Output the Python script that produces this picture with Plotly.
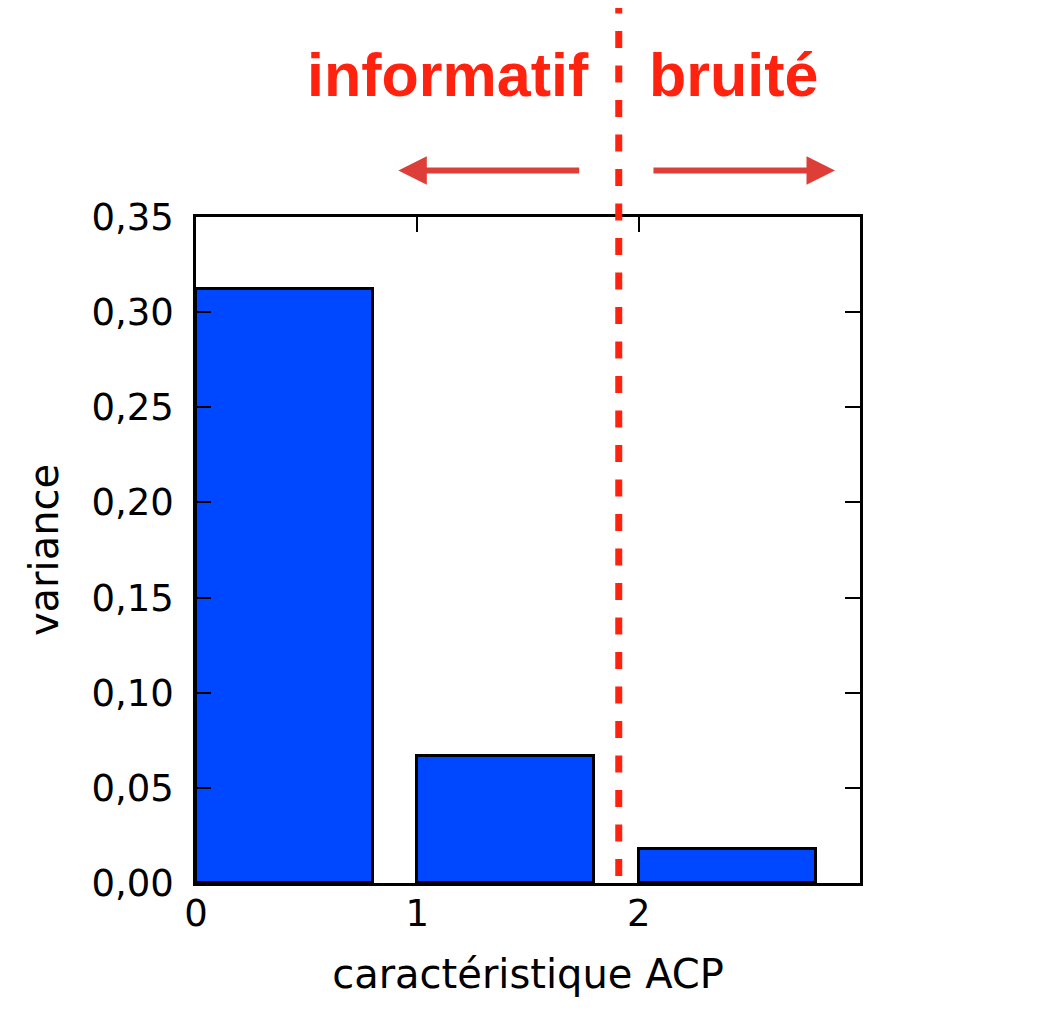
import plotly.graph_objects as go

# Data
components = [0, 1, 2]
variance = [0.312, 0.067, 0.0178]
y_ticks = [0.00, 0.05, 0.10, 0.15, 0.20, 0.25, 0.30, 0.35]
x_ticks = [0, 1, 2]
cutoff = 1.91
labels = ["informatif", "bruité"]
label_x = [1.14, 2.43]
arrow_tips = [0.914, 2.887]
arrow_tails = [1.738, 2.06]

BLUE = "rgb(0,72,255)"
RED = "rgb(255,35,15)"
ARROW_RED = "rgb(222,62,56)"
FONT = "DejaVu Sans"

fig = go.Figure()
fig.add_trace(go.Bar(
    x=components, y=variance, width=0.8, offset=0,
    marker=dict(color=BLUE, line=dict(color="black", width=3)),
    showlegend=False, hoverinfo="skip",
))

W, H = 1040, 1024
L, R, T, B = 188, 188, 209, 149
plot_w = W - L - R

fig.update_layout(
    width=W, height=H,
    margin=dict(l=L, r=R, t=T, b=B),
    plot_bgcolor="white", paper_bgcolor="white",
    separators=",.",
    font=dict(family=FONT, size=37, color="black"),
    bargap=0,
)
fig.update_xaxes(
    range=[0, 3], tickvals=x_ticks, ticktext=[str(v) for v in x_ticks],
    ticks="inside", ticklen=15, tickwidth=2, tickcolor="black",
    showline=True, linewidth=2.5, linecolor="black", mirror="ticks",
    showgrid=False, zeroline=False,
    tickfont=dict(family=FONT, size=37, color="black"),
    ticklabelstandoff=-4,
    title=dict(text="caractéristique ACP", font=dict(family=FONT, size=40, color="black"), standoff=26),
)
fig.update_yaxes(
    range=[0, 0.35], tickvals=y_ticks, tickformat=".2f",
    ticks="inside", ticklen=15, tickwidth=2, tickcolor="black",
    showline=True, linewidth=2.5, linecolor="black", mirror="ticks",
    showgrid=False, zeroline=False,
    tickfont=dict(family=FONT, size=37, color="black"),
    ticklabelstandoff=12,
    title=dict(text="variance", font=dict(family=FONT, size=40, color="black"), standoff=21),
)

# Dashed cutoff line
fig.add_shape(
    type="line", xref="x", yref="paper",
    x0=cutoff, x1=cutoff, y0=0.0105, y1=1.35,
    line=dict(color=RED, width=7, dash="17px,17.5px"),
    layer="above",
)

# Region labels
for txt, lx in zip(labels, label_x):
    fig.add_annotation(
        x=lx, y=1.2126, xref="x", yref="paper",
        text="<b>" + txt + "</b>", showarrow=False,
        font=dict(family="Liberation Sans", size=61, color=RED),
        xanchor="center", yanchor="middle",
    )

# Arrows
for tip, tail in zip(arrow_tips, arrow_tails):
    fig.add_annotation(
        x=tip, y=1.070, xref="x", yref="paper",
        ax=(tail - tip) * plot_w / 3, ay=0, axref="pixel", ayref="pixel",
        text="", showarrow=True, arrowhead=2, arrowsize=0.95, arrowwidth=6,
        arrowcolor=ARROW_RED,
    )

fig.write_html("out.html")
